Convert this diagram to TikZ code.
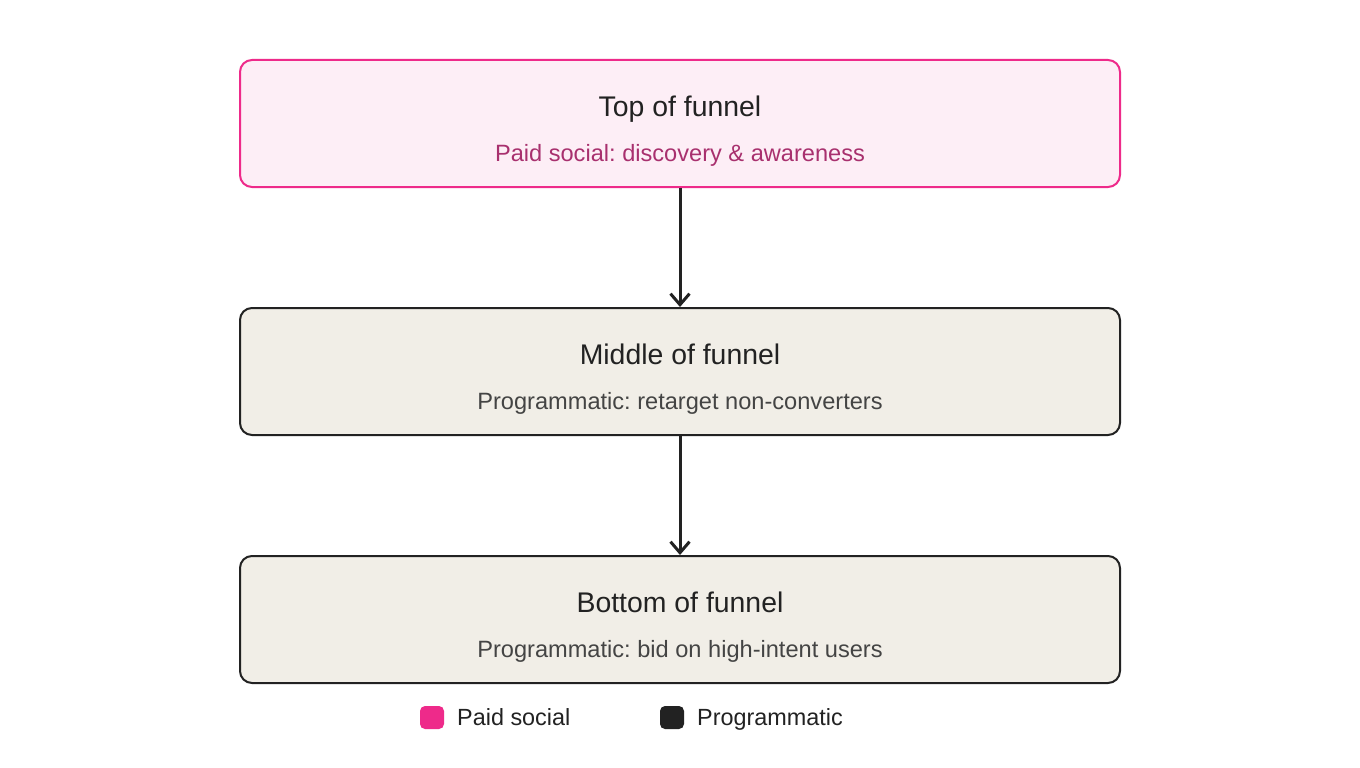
\documentclass[tikz,border=0pt]{standalone}
\usepackage{fontspec}
\setmainfont{Liberation Sans}
\frenchspacing
\usetikzlibrary{arrows.meta}
\definecolor{pinkline}{HTML}{EE2A8A}
\definecolor{pinkfill}{HTML}{FDEEF6}
\definecolor{pinktext}{HTML}{A8306E}
\definecolor{beige}{HTML}{F1EEE7}
\definecolor{ink}{HTML}{222222}
\definecolor{subgray}{HTML}{444444}
\tikzset{
  stagebox/.style={draw=ink, fill=beige, line width=2pt, rounded corners=12pt,
    minimum width=880pt, minimum height=127pt, inner sep=0pt},
  pinkbox/.style={stagebox, draw=pinkline, fill=pinkfill},
  titletext/.style={text=ink, font=\fontsize{28.4}{34}\selectfont, inner sep=0pt, anchor=base},
  subtext/.style={text=subgray, font=\fontsize{23.6}{28}\selectfont, inner sep=0pt, anchor=base},
  flowline/.style={draw=ink, line width=3pt, -{Straight Barb[length=11pt,width=19pt]}},
  legsq/.style={rounded corners=5pt, minimum width=24pt, minimum height=23pt, inner sep=0pt},
  legtext/.style={text=ink, font=\fontsize{23.4}{28}\selectfont, inner sep=0pt, anchor=base west},
}
\begin{document}
\begin{tikzpicture}[x=1pt,y=-1pt]
\useasboundingbox[fill=white] (0,0) rectangle (1360,768);
\node[pinkbox] (top) at (680,123.5) {};
\node[stagebox] (mid) at (680,371.5) {};
\node[stagebox] (bot) at (680,619.5) {};
\node[titletext] (toptitle) at (680,116.5) {Top of funnel};
\node[subtext, text=pinktext] (topsub) at (680,161.5) {Paid social: discovery \& awareness};
\node[titletext] (midtitle) at (680,364.5) {Middle of funnel};
\node[subtext] (midsub) at (680,409.5) {Programmatic: retarget non-converters};
\node[titletext] (bottitle) at (680,612.5) {Bottom of funnel};
\node[subtext] (botsub) at (680,657.5) {Programmatic: bid on high-intent users};
\draw[flowline] (top.south) -- (mid.north);
\draw[flowline] (mid.south) -- (bot.north);
\node[legsq, fill=pinkline] (legpink) at (432,717.5) {};
\node[legtext] (legpinktext) at (457,725.7) {Paid social};
\node[legsq, fill=ink] (legdark) at (672,717.5) {};
\node[legtext] (legdarktext) at (697,725.7) {Programmatic};
\end{tikzpicture}
\end{document}
